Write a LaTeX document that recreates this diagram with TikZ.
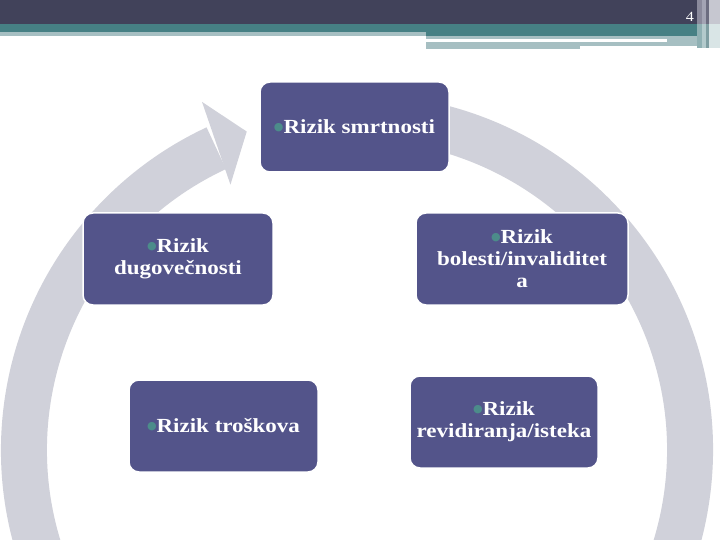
\documentclass[tikz,border=0pt]{standalone}
\usepackage{fontspec}
\setmainfont{Liberation Serif}[FakeStretch=1.15]
\newfontfamily\djv{DejaVu Sans}
\usetikzlibrary{calc}
\definecolor{topdark}{HTML}{41425A}
\definecolor{tealband}{HTML}{468084}
\definecolor{lteal}{HTML}{A6BFC2}
\definecolor{ringc}{HTML}{D0D1DA}
\definecolor{boxc}{HTML}{53548A}
\definecolor{bulc}{HTML}{4C8C8A}
\definecolor{sa}{HTML}{8A8A9C}
\definecolor{sb}{HTML}{A3A4B4}
\definecolor{sc}{HTML}{6C6D80}
\definecolor{sd}{HTML}{C6C7D0}
\definecolor{se}{HTML}{8FB0B3}
\definecolor{sf}{HTML}{B3CACC}
\definecolor{sg}{HTML}{7F9EA2}
\definecolor{sh}{HTML}{D9E5E6}
\newcommand\bul{{\color{bulc}\raisebox{3pt}{\djv\fontsize{11}{11}\selectfont ●}}}
\tikzset{
  riskbox/.style={rectangle, rounded corners=10pt, fill=boxc, draw=white, line width=1.5pt,
    text=white, align=center, inner sep=2pt, font=\bfseries\fontsize{20}{22}\selectfont},
}
\begin{document}
\begin{tikzpicture}[x=1pt,y=-1pt]
\useasboundingbox (0,0) rectangle (720,540);
\fill[white] (0,0) rectangle (720,540);
% header bands
\fill[topdark] (0,0) rectangle (720,24);
\fill[tealband] (0,24) rectangle (720,32);
\fill[lteal] (0,32) rectangle (426,36);
\fill[tealband] (426,32) rectangle (720,36);
\fill[lteal] (426,36) rectangle (720,39);
\fill[lteal] (426,42) rectangle (580,49);
\fill[lteal] (580,42) rectangle (667,46);
\fill[lteal] (667,38) rectangle (697,46);
% right strips
\fill[sa] (697,0) rectangle (702,24);
\fill[sb] (702,0) rectangle (706,24);
\fill[sc] (706,0) rectangle (709,24);
\fill[sd] (709,0) rectangle (720,24);
\fill[se] (697,24) rectangle (702,48);
\fill[sf] (702,24) rectangle (706,48);
\fill[sg] (706,24) rectangle (709,48);
\fill[sh] (709,24) rectangle (720,48);
\node[text=white, font=\fontsize{14}{14}\selectfont] (pnum) at (690,17) {4};
% circular arrow
\coordinate (c) at (357,450);
\fill[ringc] ($(c)+(-80:356)$) arc[start angle=-80, end angle=245, radius=356]
  -- ($(c)+(245:310)$) arc[start angle=245, end angle=-80, radius=310] -- cycle;
\fill[ringc] ($(c)+(244.5:294)$) -- ($(c)+(250.9:337)$) -- ($(c)+(246:381)$) -- cycle;
% boxes
\node[riskbox, minimum width=189pt, minimum height=90pt] (smrt) at (354.5,127) {\bul Rizik smrtnosti};
\node[riskbox, minimum width=190pt, minimum height=92pt] (dugo) at (178,259) {\bul Rizik\\dugovečnosti};
\node[riskbox, minimum width=212pt, minimum height=92pt] (bole) at (522,259) {\bul Rizik\\bolesti/invaliditet\\a};
\node[riskbox, minimum width=189pt, minimum height=92pt] (tros) at (223.5,426) {\bul Rizik troškova};
\node[riskbox, minimum width=188pt, minimum height=92pt] (revi) at (504,422) {\bul Rizik\\revidiranja/isteka};
\end{tikzpicture}
\end{document}
